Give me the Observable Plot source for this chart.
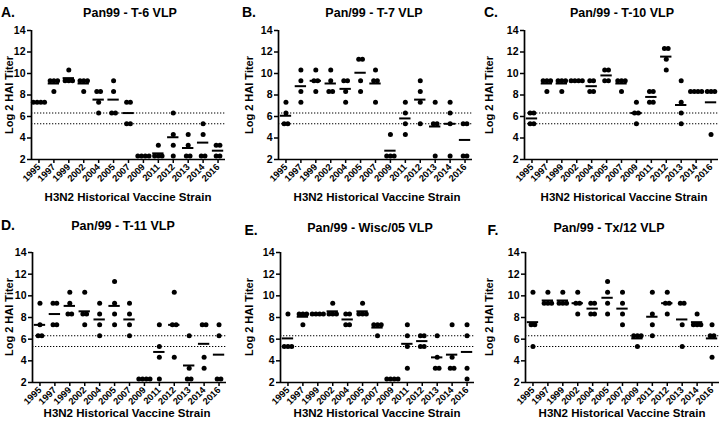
<!DOCTYPE html>
<html><head><meta charset="utf-8">
<script src="https://cdn.jsdelivr.net/npm/d3@7"></script>
<script src="https://cdn.jsdelivr.net/npm/@observablehq/plot@0.6"></script>
<style>
body{margin:0;background:#fff;font-family:"Liberation Sans",Arial,sans-serif;}
#fig{position:relative;width:720px;height:425px;overflow:hidden;background:#fff}
.lbl{position:absolute;font-weight:bold;color:#000;white-space:nowrap;transform:translate(-50%,-50%);line-height:1}
.ylab{position:absolute;font-weight:bold;color:#000;white-space:nowrap;transform:translate(-50%,-50%) rotate(-90deg);line-height:1}
#fig svg{position:absolute}
</style></head><body><div id="fig"></div>
<script>
const strains = ["1995","1997","1999","2002","2004","2005","2007","2009","2011","2012","2013","2014","2016"];
const panelLetters = ["A.","B.","C.","D.","E.","F."];
const panelTitles = ["Pan99 - T-6 VLP","Pan/99 - T-7 VLP","Pan/99 - T-10 VLP","Pan/99 - T-11 VLP","Pan/99 - Wisc/05 VLP","Pan/99 - Tx/12 VLP"];
const yTitle = "Log 2 HAI Titer";
const xTitle = "H3N2 Historical Vaccine Strain";
const yTicks = [2,4,6,8,10,12,14];
const cutoffs = [5.32, 6.32];

// log2 HAI titers, 4 animals per strain
const t6 = [[7.32,7.32,7.32,7.32],[9.32,9.32,9.32,8.32],[10.32,9.32,9.32,9.32],[9.32,9.32,9.32,8.32],[8.32,8.32,7.32,6.32],[9.32,8.32,6.32,6.32],[7.32,7.32,5.32,5.32],[2.32,2.32,2.32,2.32],[3.32,2.32,2.32,2.32],[6.32,4.32,3.32,2.32],[4.32,3.32,2.32,2.32],[5.32,4.32,2.32,2.32],[3.32,3.32,2.32,2.32]];
const t7 = [[7.32,6.32,5.32,5.32],[10.32,9.32,8.32,7.32],[10.32,9.32,9.32,8.32],[10.32,9.32,8.32,8.32],[9.32,9.32,8.32,7.32],[11.32,11.32,9.32,8.32],[10.32,9.32,9.32,7.32],[4.32,2.32,2.32,2.32],[7.32,6.32,5.32,4.32],[9.32,8.32,7.32,5.32],[7.32,5.32,5.32,2.32],[7.32,6.32,5.32,2.32],[5.32,5.32,2.32,2.32]];
const t10 = [[6.32,6.32,5.32,5.32],[9.32,9.32,9.32,8.32],[9.32,9.32,9.32,8.32],[9.32,9.32,9.32,9.32],[9.32,9.32,8.32,8.32],[10.32,10.32,9.32,9.32],[9.32,9.32,9.32,8.32],[7.32,6.32,6.32,5.32],[8.32,8.32,7.32,7.32],[12.32,12.32,11.32,10.32],[9.32,7.32,6.32,5.32],[8.32,8.32,8.32,8.32],[8.32,8.32,8.32,4.32]];
const t11 = [[9.32,7.32,6.32,6.32],[9.32,9.32,7.32,7.32],[10.32,9.32,8.32,8.32],[10.32,8.32,8.32,7.32],[9.32,8.32,7.32,6.32],[11.32,9.32,8.32,7.32],[9.32,8.32,7.32,6.32],[2.32,2.32,2.32,2.32],[7.32,5.32,4.32,2.32],[10.32,7.32,7.32,4.32],[6.32,3.32,2.32,2.32],[7.32,7.32,4.32,3.32],[7.32,6.32,2.32,2.32]];
const wisc05 = [[8.32,5.32,5.32,5.32],[8.32,8.32,8.32,7.32],[8.32,8.32,8.32,8.32],[9.32,8.32,8.32,8.32],[8.32,8.32,7.32,7.32],[9.32,8.32,8.32,8.32],[7.32,7.32,7.32,6.32],[2.32,2.32,2.32,2.32],[7.32,6.32,5.32,3.32],[6.32,6.32,5.32,5.32],[6.32,4.32,3.32,3.32],[7.32,4.32,3.32,3.32],[7.32,6.32,3.32,2.32]];
const tx12 = [[10.32,7.32,7.32,5.32],[10.32,9.32,9.32,9.32],[10.32,9.32,9.32,9.32],[10.32,9.32,9.32,8.32],[9.32,9.32,8.32,8.32],[11.32,10.32,9.32,8.32],[10.32,9.32,8.32,7.32],[6.32,6.32,6.32,5.32],[10.32,8.32,7.32,6.32],[10.32,9.32,9.32,8.32],[9.32,9.32,7.32,5.32],[8.32,7.32,7.32,7.32],[7.32,6.32,6.32,4.32]];

const panelData = [t6, t7, t10, t11, wisc05, tx12];

// layout (pixels)
const layout = [
  {left:0,   top:0,   h:210, axis:31,  y14:30,  y2:159, letter:[8,12],   title:[130,13],  xlab:[128,198]},
  {left:240, top:0,   h:210, axis:278, y14:30,  y2:159, letter:[249,12], title:[374,13],  xlab:[377,198]},
  {left:480, top:0,   h:210, axis:524, y14:30,  y2:159, letter:[491,12], title:[622,13],  xlab:[624,198]},
  {left:0,   top:210, h:215, axis:32,  y14:252, y2:382, letter:[8,225],  title:[123,226], xlab:[127,414]},
  {left:240, top:210, h:215, axis:280, y14:252, y2:382, letter:[251,230],title:[370,228], xlab:[377,414]},
  {left:480, top:210, h:215, axis:525, y14:252, y2:382, letter:[493,230],title:[609,228], xlab:[622,414]}
];
const plotW = 194, svgW = 240;
const fig = document.getElementById("fig");
const font = '"Liberation Sans", Arial, sans-serif';

function addLabel(cls, text, x, y, size) {
  const d = document.createElement("div");
  d.className = cls; d.textContent = text;
  d.style.left = x + "px"; d.style.top = y + "px"; d.style.fontSize = size + "px";
  fig.appendChild(d);
}

panelData.forEach((data, p) => {
  const L = layout[p];
  const rows = [];
  data.forEach((vals, i) => {
    const counts = d3.rollup(vals, v => v.length, v => v);
    const seen = new Map();
    vals.forEach(v => {
      const n = counts.get(v), k = seen.get(v) || 0;
      seen.set(v, k + 1);
      rows.push({i, v, x: i + (k - (n - 1) / 2) * 0.25});
    });
  });
  const means = data.map((vals, i) => ({i, m: d3.mean(vals)}));
  const ml = L.axis - L.left;
  const svg = Plot.plot({
    width: svgW, height: L.h,
    marginLeft: ml, marginRight: svgW - ml - plotW,
    marginTop: L.y14 - L.top, marginBottom: L.top + L.h - L.y2,
    x: {domain: [-0.5, 12.5]},
    y: {domain: [2, 14]},
    style: {fontFamily: font, fontSize: "10.5px", fontWeight: "bold", background: "transparent", color: "#000", overflow: "visible"},
    marks: [
      Plot.ruleY(cutoffs, {stroke: "#000", strokeWidth: 1.1, strokeDasharray: "1.3,1.7"}),
      Plot.axisY({ticks: yTicks, tickSize: 4, tickPadding: 2, label: null, strokeWidth: 1.5, fontWeight: "bold", fontSize: 10.5}),
      Plot.axisX({ticks: d3.range(strains.length), tickFormat: i => strains[i], tickRotate: -45, tickSize: 4, tickPadding: 2, label: null, strokeWidth: 1.5, fontWeight: "bold", fontSize: 9.3}),
      Plot.ruleX([-0.5], {y1: 2, y2: 14, stroke: "#000", strokeWidth: 1.7}),
      Plot.ruleY([2], {stroke: "#000", strokeWidth: 1.7}),
      Plot.dot(rows, {x: "x", y: "v", r: 2.5, fill: "#000"}),
      Plot.ruleY(means, {y: "m", x1: d => d.i - 0.38, x2: d => d.i + 0.38, stroke: "#000", strokeWidth: 2})
    ]
  });
  svg.style.left = L.left + "px";
  svg.style.top = L.top + "px";
  fig.appendChild(svg);
  addLabel("lbl", panelLetters[p], L.letter[0], L.letter[1], 14);
  addLabel("lbl", panelTitles[p], L.title[0], L.title[1], 12.5);
  addLabel("lbl", xTitle, L.xlab[0], L.xlab[1], 11.5);
  addLabel("ylab", yTitle, L.left + 9, (L.y14 + L.y2) / 2, 11);
});
</script>
</body></html>
